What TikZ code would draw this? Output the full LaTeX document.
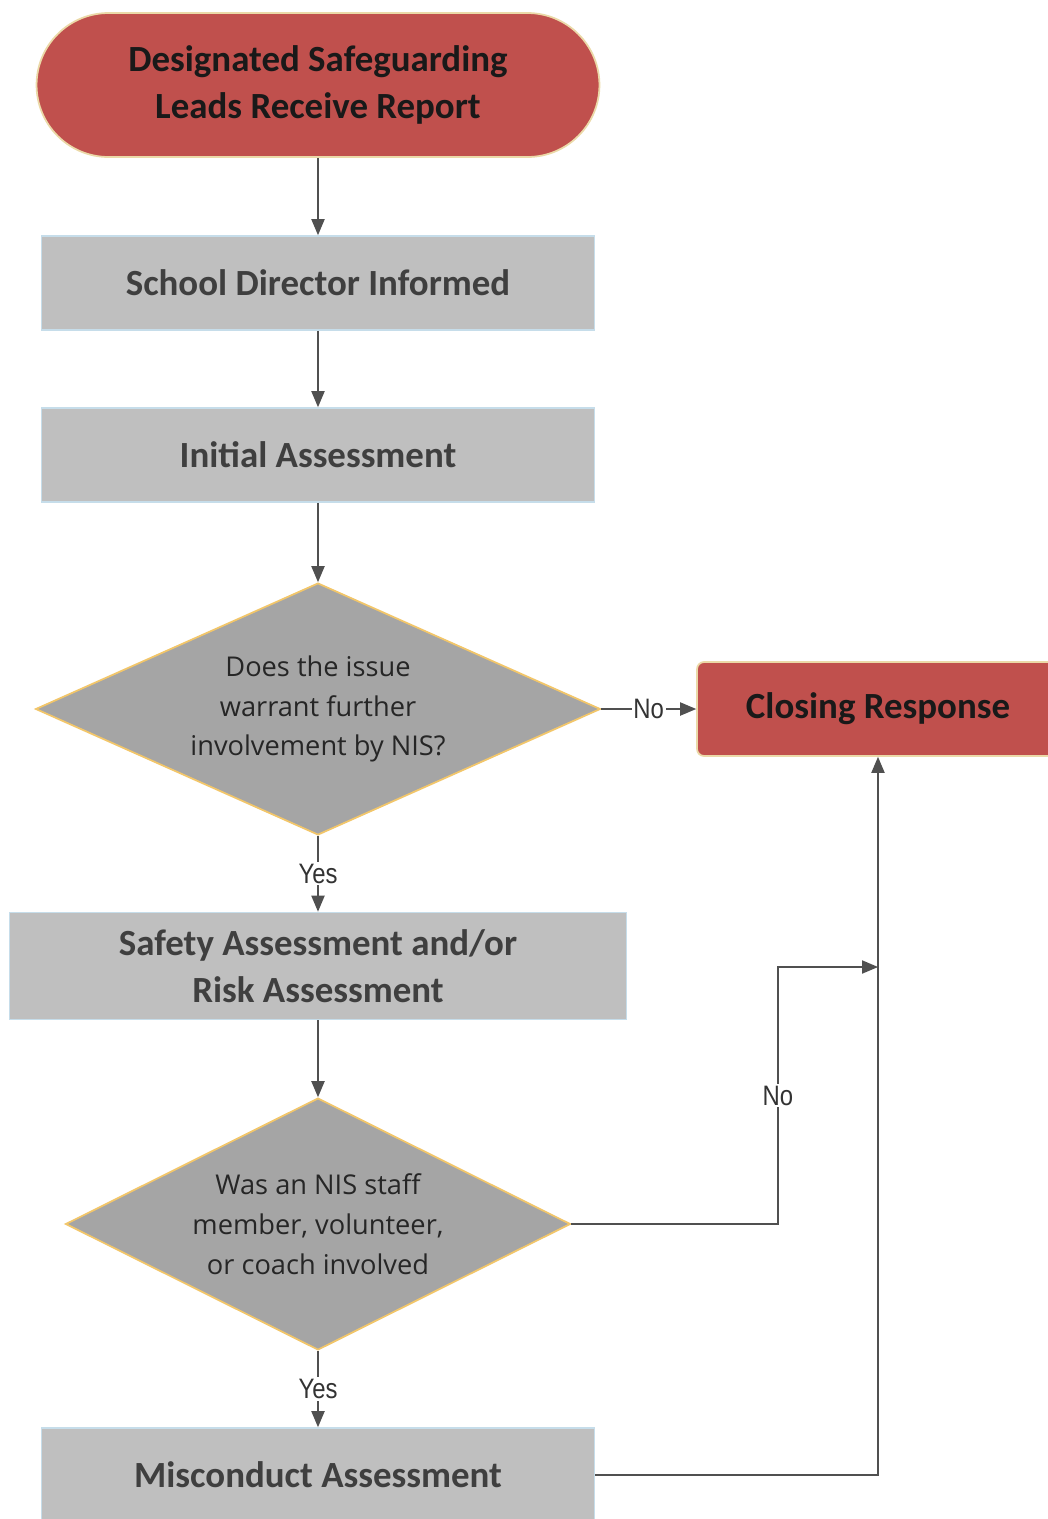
\documentclass[tikz,border=0pt]{standalone}
\usepackage{fontspec}
\setmainfont{Carlito}
\newfontfamily\diafont{Open Sans}
\newfontfamily\labfont[FakeStretch=0.85]{Liberation Sans}
\usetikzlibrary{arrows,%
                shapes.geometric}
\definecolor{redfill}{HTML}{C0504D}
\definecolor{tanline}{HTML}{EBD9A8}
\definecolor{greyfill}{HTML}{BFBFBF}
\definecolor{blueline}{HTML}{C6DDEA}
\definecolor{diafill}{HTML}{A5A5A5}
\definecolor{goldline}{HTML}{F2C66A}
\definecolor{flowline}{HTML}{505050}
\definecolor{greytext}{HTML}{3F3F3F}
\tikzstyle{terminal}=[rectangle, draw=tanline, line width=1pt, fill=redfill, text=black!90, font=\fontsize{21}{26.5}\selectfont\bfseries, align=center, inner sep=0pt]
\tikzstyle{process}=[rectangle, draw=blueline, line width=1pt, fill=greyfill, text=greytext, font=\fontsize{21}{26.5}\selectfont\bfseries, align=center, inner sep=0pt]
\tikzstyle{decision}=[diamond, aspect=2.24, draw=goldline, line width=1pt, fill=diafill, text=black!85, font=\diafont\fontsize{15.5}{22.7}\selectfont, align=center, inner sep=0pt]
\tikzstyle{flow}=[draw=flowline, line width=1.1pt, -triangle 45]
\tikzstyle{answer}=[fill=white, text=black!80, font=\labfont\fontsize{16}{18}\selectfont, inner sep=1pt]

\begin{document}
\begin{tikzpicture}[x=0.02cm, y=-0.02cm]
  \useasboundingbox (0,0) rectangle (1048,1519);
  \node[terminal, rounded corners=1.44cm, minimum width=11.26cm, minimum height=2.88cm] (report) at (318,85) {Designated Safeguarding\\Leads Receive Report};
  \node[process, minimum width=11.06cm, minimum height=1.88cm] (director) at (318,283) {School Director Informed};
  \node[process, minimum width=11.06cm, minimum height=1.88cm] (initial) at (318,455) {Initial Assessment};
  \node[decision, minimum width=11.3cm, minimum height=5.04cm] (further) at (318,709) {Does the issue\\warrant further\\involvement by NIS?};
  \node[terminal, rounded corners=4pt, minimum width=7.24cm, minimum height=1.88cm] (closing) at (878,709) {Closing Response};
  \node[process, minimum width=12.34cm, minimum height=2.14cm] (safety) at (318,966) {Safety Assessment and/or\\Risk Assessment};
  \node[decision, minimum width=10.1cm, minimum height=5.04cm] (staff) at (318,1224) {Was an NIS staff\\member, volunteer,\\or coach involved};
  \node[process, minimum width=11.06cm, minimum height=1.88cm] (misconduct) at (318,1475) {Misconduct Assessment};

  \coordinate (nodown) at (778,1224);
  \coordinate (noup) at (778,967);
  \coordinate (merge) at (878,967);

  \draw[flow] (report) -- (director);
  \draw[flow] (director) -- (initial);
  \draw[flow] (initial) -- (further);
  \draw[flow] (further) -- node[answer] {Yes} (safety);
  \draw[flow] (further) -- node[answer] {No} (closing);
  \draw[flow] (safety) -- (staff);
  \draw[flow] (staff) -- node[answer] {Yes} (misconduct);
  \draw[flow] (staff.east) -- (nodown) -- node[answer] {No} (noup) -- (merge);
  \draw[flow] (misconduct.east) -| (closing.south);
\end{tikzpicture}
\end{document}
